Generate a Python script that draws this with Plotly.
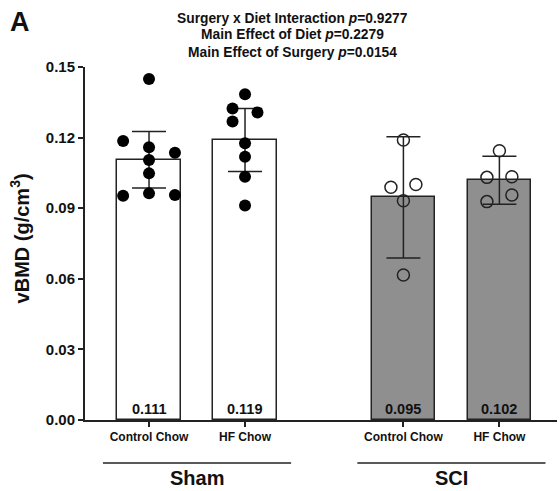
import plotly.graph_objects as go

# ---- data ----
groups = ["Sham", "SCI"]
diets = ["Control Chow", "HF Chow", "Control Chow", "HF Chow"]
means = [0.1106, 0.1190, 0.0946, 0.1019]
sds = [0.0120, 0.0134, 0.0258, 0.0102]
sham_ctrl = [0.1449, 0.1186, 0.1159, 0.1136, 0.1105, 0.1048, 0.0953, 0.0963, 0.0956]
sham_hf = [0.1384, 0.1324, 0.1307, 0.1268, 0.1176, 0.1119, 0.1034, 0.0911]
sci_ctrl = [0.1190, 0.0989, 0.1001, 0.0932, 0.0616]
sci_hf = [0.1144, 0.1031, 0.1034, 0.0956, 0.0928]
stats_lines = [
    ("Surgery x Diet Interaction", "0.9277"),
    ("Main Effect of Diet", "0.2279"),
    ("Main Effect of Surgery", "0.0154"),
]
yticks = [0.00, 0.03, 0.06, 0.09, 0.12, 0.15]

# ---- layout helpers (positions / styles) ----
xpos = [0, 1, 2.65, 3.65]
jitter = [
    [0, -0.27, 0, 0.27, 0, 0, -0.27, 0, 0.27],
    [0, -0.13, 0.13, -0.13, 0, 0, 0, 0],
    [0, -0.13, 0.13, 0, 0],
    [0, -0.13, 0.13, 0.13, -0.13],
]
points = [sham_ctrl, sham_hf, sci_ctrl, sci_hf]
bar_colors = ["white", "white", "#8f8f8f", "#8f8f8f"]
FONT = "Arial, Liberation Sans, sans-serif"
PLOT_H = 353  # plot area height in px

fig = go.Figure()
fig.add_trace(go.Bar(
    x=xpos, y=means, width=0.66,
    marker=dict(color=bar_colors, line=dict(color="#222", width=1.5)),
    error_y=dict(type="data", array=sds, visible=True, color="#222",
                 thickness=1.5, width=17),
    showlegend=False, hoverinfo="skip",
))

for i, pts in enumerate(points):
    filled = i < 2
    fig.add_trace(go.Scatter(
        x=[xpos[i] + j for j in jitter[i]], y=pts, mode="markers",
        marker=dict(
            symbol="circle" if filled else "circle-open",
            size=12,
            color="black" if filled else "#222",
            line=dict(width=1.5, color="#222") if not filled else dict(width=0),
        ),
        cliponaxis=False, showlegend=False, hoverinfo="skip",
    ))

annotations = []
for i, m in enumerate(means):
    annotations.append(dict(
        x=xpos[i], y=0, xref="x", yref="y", text=f"<b>{m:.3f}</b>",
        showarrow=False, yanchor="bottom", yshift=1,
        font=dict(size=14.5, color="#111", family=FONT),
    ))

for k, (a, p) in enumerate(stats_lines):
    ypx = 18 + 17 * k  # centre of line, px from top of page
    annotations.append(dict(
        x=0.44, y=1 + (67 - ypx) / PLOT_H, xref="paper", yref="paper",
        text=f"<b>{a} <i>p</i>={p}</b>",
        showarrow=False, xanchor="center", yanchor="middle",
        font=dict(size=13.8, color="#111", family=FONT),
    ))
annotations.append(dict(
    x=-0.138, y=1 + (67 - 22) / PLOT_H, xref="paper", yref="paper", text="<b>A</b>",
    showarrow=False, xanchor="center", yanchor="middle",
    font=dict(size=27, color="#111", family=FONT),
))
annotations.append(dict(
    x=-0.138, y=0.514, xref="paper", yref="paper",
    text="<b>vBMD (g/cm<sup>3</sup>)</b>", textangle=-90,
    showarrow=False, xanchor="center", yanchor="middle",
    font=dict(size=20, color="#111", family=FONT),
))

shapes = []
group_centers = [(xpos[0] + xpos[1]) / 2, (xpos[2] + xpos[3]) / 2]
for g, c in zip(groups, group_centers):
    shapes.append(dict(
        type="line", xref="x", yref="paper", x0=c - 0.98, x1=c + 0.98,
        y0=-0.122, y1=-0.122, line=dict(color="#222", width=1.5),
    ))
    annotations.append(dict(
        x=c, y=-0.163, xref="x", yref="paper", text=f"<b>{g}</b>",
        showarrow=False, xanchor="center", yanchor="middle",
        font=dict(size=20, color="#111", family=FONT),
    ))

fig.update_layout(
    width=560, height=491,
    margin=dict(l=85, r=3, t=67, b=71),
    plot_bgcolor="white", paper_bgcolor="white",
    font=dict(family=FONT, color="#111"),
    bargap=0,
    xaxis=dict(
        range=[-0.667, 4.25], tickvals=xpos,
        ticktext=[f"<b>{d}</b>" for d in diets],
        tickfont=dict(size=12, family=FONT, color="#111"),
        showline=True, linecolor="#222", linewidth=2,
        ticks="outside", ticklen=5, tickwidth=1.5, tickcolor="#222",
        showgrid=False, zeroline=False,
    ),
    yaxis=dict(
        range=[0, 0.15], tickvals=yticks,
        ticktext=[f"<b>{v:.2f}</b>" for v in yticks],
        tickfont=dict(size=15, family=FONT, color="#111"),
        showline=True, linecolor="#222", linewidth=2,
        ticks="outside", ticklen=5, tickwidth=1.5, tickcolor="#222",
        showgrid=False, zeroline=False,
    ),
    annotations=annotations,
    shapes=shapes,
)

fig.write_html("out.html", config={"displayModeBar": False},
               post_script="document.body.style.margin='0';")
